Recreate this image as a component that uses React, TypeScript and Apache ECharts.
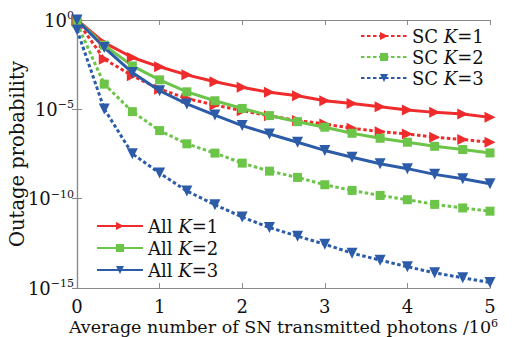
import React, { useEffect, useRef } from "react";
import * as echarts from "echarts";

// Average number of SN transmitted photons (/10^6)
const photons = [0, 0.33, 0.67, 1, 1.33, 1.67, 2, 2.33, 2.67, 3, 3.33, 3.67, 4, 4.33, 4.67, 5];

// Outage probability, given as exponents of 10
const scK1Exp = [-0.05, -2.19, -3.12, -3.87, -4.39, -4.76, -5.08, -5.36, -5.63, -5.82, -6.06, -6.25, -6.38, -6.56, -6.69, -6.84];
const scK2Exp = [-0.2, -3.59, -5.13, -6.19, -6.93, -7.45, -8.01, -8.46, -8.81, -9.22, -9.54, -9.82, -10.06, -10.32, -10.52, -10.7];
const scK3Exp = [-0.55, -4.98, -7.49, -8.57, -9.57, -10.34, -11.03, -11.62, -12.1, -12.55, -13.05, -13.44, -13.81, -14.15, -14.43, -14.69];
const allK1Exp = [0, -1.27, -2.1, -2.62, -3.07, -3.46, -3.77, -4.05, -4.24, -4.52, -4.67, -4.85, -5.04, -5.17, -5.26, -5.45];
const allK2Exp = [0, -1.41, -2.57, -3.35, -4.02, -4.52, -4.95, -5.35, -5.69, -6.0, -6.34, -6.62, -6.84, -7.07, -7.25, -7.44];
const allK3Exp = [0, -1.54, -2.94, -3.96, -4.7, -5.32, -5.91, -6.38, -6.84, -7.3, -7.68, -8.05, -8.32, -8.64, -8.89, -9.17];

const xTicks = [0, 1, 2, 3, 4, 5];
const yTickExps = [0, -5, -10, -15];

const FONT = "DejaVu Serif";
const RED = "#ef2b2b";
const GREEN = "#6cc449";
const BLUE = "#2c5ca8";
const AXIS = "#8a8a8a";

const toData = (exps: number[]) => photons.map((x, i) => [x, Math.pow(10, exps[i])]);

export default function App() {
  const ref = useRef<HTMLDivElement>(null);
  useEffect(() => {
    if (!ref.current) return;
    const chart = echarts.init(ref.current, null, { renderer: "svg" });
    const dotted = { type: [3.5, 2.5] as any, width: 3 };
    const solid = { type: "solid" as const, width: 3 };
    const mk = (name: string, exps: number[], color: string, dashed: boolean, symbol: string, rot: number, size: number) => ({
      name,
      type: "line",
      data: toData(exps),
      symbol,
      symbolRotate: rot,
      symbolSize: size,
      lineStyle: { ...(dashed ? dotted : solid), color },
      itemStyle: { color },
      z: dashed ? 2 : 3,
    });
    const legendText = {
      fontFamily: FONT,
      fontSize: 18,
      color: "#111",
      rich: {
        i: { fontFamily: FONT, fontSize: 18, fontStyle: "italic" as const, color: "#111" },
      },
    };
    const legendFmt = (name: string) => name.replace("K", "{i|K}");
    chart.setOption({
      animation: false,
      backgroundColor: "#fff",
      grid: { left: 77, right: 29, top: 20, bottom: 49, show: false, containLabel: false, outerBoundsMode: "none" },
      legend: [
        {
          data: ["SC K=1", "SC K=2", "SC K=3"],
          orient: "vertical",
          left: 355,
          top: 22,
          itemWidth: 46,
          itemHeight: 10,
          itemGap: 3,
          formatter: legendFmt,
          textStyle: legendText,
        },
        {
          data: ["All K=1", "All K=2", "All K=3"],
          orient: "vertical",
          left: 91,
          top: 212,
          itemWidth: 46,
          itemHeight: 10,
          itemGap: 4,
          formatter: legendFmt,
          textStyle: legendText,
        },
      ],
      xAxis: [
        {
          type: "value",
          min: 0,
          max: 5,
          interval: 1,
          axisLine: { show: true, lineStyle: { color: AXIS, width: 1.2 } },
          axisTick: { show: true, inside: true, length: 5, lineStyle: { color: AXIS } },
          splitLine: { show: false },
          axisLabel: {
            color: "#111",
            fontFamily: FONT,
            fontSize: 18,
            lineHeight: 18,
            margin: 9,
            formatter: (v: number) => (xTicks.includes(v) ? String(v) : ""),
          },
          name: "Average number of SN transmitted photons /10{s|6}",
          nameLocation: "middle",
          nameGap: 30,
          nameMoveOverlap: false,
          nameTextStyle: {
            color: "#111",
            fontFamily: FONT,
            fontSize: 17.5,
            lineHeight: 18,
            rich: { s: { fontFamily: FONT, fontSize: 11, verticalAlign: "top", color: "#111", lineHeight: 11 } },
          },
        },
        {
          type: "value",
          position: "top",
          min: 0,
          max: 5,
          interval: 1,
          axisLine: { show: true, lineStyle: { color: AXIS, width: 1.2 } },
          axisTick: { show: true, inside: true, length: 5, lineStyle: { color: AXIS } },
          axisLabel: { show: false },
          splitLine: { show: false },
        },
      ],
      yAxis: [
        {
          type: "log",
          logBase: 10,
          min: 1e-15,
          max: 1,
          splitNumber: 3,
          interval: 5,
          axisLine: { show: true, lineStyle: { color: AXIS, width: 1.2 } },
          axisTick: { show: true, inside: true, length: 5, lineStyle: { color: AXIS } },
          splitLine: { show: false },
          minorTick: { show: false },
          axisLabel: {
            color: "#111",
            fontFamily: FONT,
            fontSize: 18,
            margin: 3,
            verticalAlignMinLabel: "middle",
            verticalAlignMaxLabel: "middle",
            formatter: (v: number) => {
              const e = Math.round(Math.log10(v));
              if (!yTickExps.includes(e)) return "";
              return "{b|10}{s|" + (e === 0 ? "0" : "\u2212" + Math.abs(e)) + "}";
            },
            rich: {
              b: { fontFamily: FONT, fontSize: 18, color: "#111", lineHeight: 20 },
              s: { fontFamily: FONT, fontSize: 11, color: "#111", verticalAlign: "top", lineHeight: 12 },
            },
          },
          name: "Outage probability",
          nameLocation: "middle",
          nameGap: 50,
          nameRotate: 90,
          nameMoveOverlap: false,
          nameTextStyle: { color: "#111", fontFamily: FONT, fontSize: 19.5 },
        },
        {
          type: "log",
          logBase: 10,
          position: "right",
          min: 1e-15,
          max: 1,
          splitNumber: 3,
          interval: 5,
          axisLine: { show: true, lineStyle: { color: AXIS, width: 1.2 } },
          axisTick: { show: true, inside: true, length: 5, lineStyle: { color: AXIS } },
          axisLabel: { show: false },
          splitLine: { show: false },
        },
      ],
      series: [
        mk("SC K=1", scK1Exp, RED, true, "triangle", -90, 11),
        mk("SC K=2", scK2Exp, GREEN, true, "rect", 0, 9),
        mk("SC K=3", scK3Exp, BLUE, true, "triangle", 180, 11),
        mk("All K=1", allK1Exp, RED, false, "triangle", -90, 11),
        mk("All K=2", allK2Exp, GREEN, false, "rect", 0, 9),
        mk("All K=3", allK3Exp, BLUE, false, "triangle", 180, 11),
      ],
    });
    return () => chart.dispose();
  }, []);
  return <div ref={ref} style={{ position: "fixed", left: 0, top: 0, width: 519, height: 337 }} />;
}
